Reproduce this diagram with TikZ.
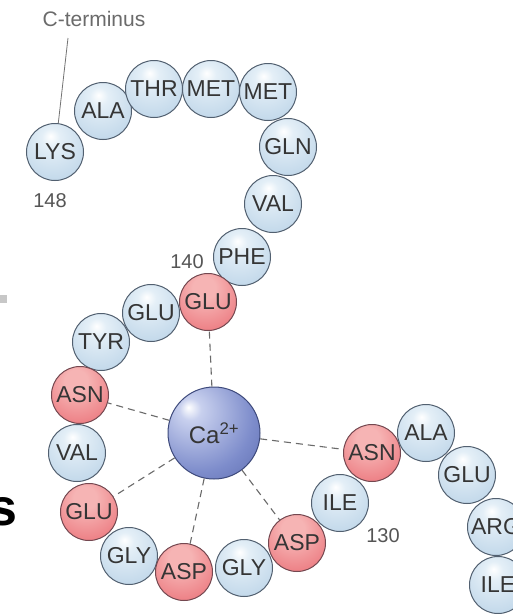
\documentclass[tikz,border=0pt]{standalone}
\usepackage{fontspec}
\setmainfont{Liberation Sans}
\definecolor{blueA}{HTML}{E4EFF7}
\definecolor{blueB}{HTML}{C2D8EA}
\definecolor{blueC}{HTML}{98B8D4}
\definecolor{redA}{HTML}{F6B4B4}
\definecolor{redB}{HTML}{EC7A80}
\definecolor{redC}{HTML}{D04E58}
\definecolor{caA}{HTML}{C8D0EE}
\definecolor{caB}{HTML}{7D8CCB}
\definecolor{caC}{HTML}{5564A8}
\definecolor{beadedge}{HTML}{526070}
\definecolor{redge}{HTML}{744850}
\definecolor{caedge}{HTML}{3E4A7C}
\definecolor{labgrey}{HTML}{353535}
\definecolor{numgrey}{HTML}{555555}
\definecolor{bondgrey}{HTML}{6A6A6A}
\pgfdeclareradialshading{blueball}{\pgfpoint{-4bp}{14bp}}{color(0bp)=(white); color(8bp)=(blueA); color(34bp)=(blueB); color(50bp)=(blueC); color(80bp)=(blueC)}
\pgfdeclareradialshading{redball}{\pgfpoint{-4bp}{14bp}}{color(0bp)=(redA); color(10bp)=(redA); color(36bp)=(redB); color(50bp)=(redC); color(80bp)=(redC)}
\pgfdeclareradialshading{caball}{\pgfpoint{-14bp}{14bp}}{color(0bp)=(white); color(6bp)=(caA); color(30bp)=(caB); color(50bp)=(caC); color(80bp)=(caC)}

\begin{document}
\begin{tikzpicture}[x=1pt,y=-1pt,
  bead/.style={circle,minimum size=57pt,draw=beadedge,line width=1pt,text=labgrey,font=\fontsize{23}{24}\selectfont},
  plainbead/.style={bead,shade,shading=blueball},
  bindbead/.style={bead,shade,shading=redball,draw=redge},
  ionball/.style={circle,minimum size=92pt,draw=caedge,line width=1pt,shade,shading=caball,text=labgrey,font=\fontsize{24}{24}\selectfont},
  resnum/.style={text=numgrey,font=\fontsize{20}{22}\selectfont},
  bond/.style={draw=bondgrey,line width=1.1pt,dash pattern=on 7pt off 5pt}]
\tikzstyle{every node}+=[inner sep=0pt]
\clip (0,0) rectangle (513,614);
\fill [white] (0,0) rectangle (513,614);
% cut-off bits at the left edge
\fill [black!22] (0,295) rectangle (7,303);
\node [anchor=east,font=\fontsize{52}{52}\bfseries] (word) at (18,512) {s};
% C-terminus
\node [resnum,text=black!58,font=\fontsize{21}{22}\selectfont] (cterm) at (94,19) {C-terminus};
\coordinate (ctip) at (68,38);
% chain, from lys 148 down
\node [plainbead] (lys) at (55,152) {LYS};
\node [plainbead] (ala1) at (103,111) {ALA};
\node [plainbead] (thr) at (154,89) {THR};
\node [plainbead] (met1) at (211,89) {MET};
\node [plainbead] (met2) at (268,92) {MET};
\node [plainbead] (gln) at (288,147) {GLN};
\node [plainbead] (val1) at (273,204) {VAL};
\node [plainbead] (phe) at (242,257) {PHE};
\node [bindbead] (glu1) at (208,302) {GLU};
\node [plainbead] (glu2) at (151,313) {GLU};
\node [plainbead] (tyr) at (101,342) {TYR};
\node [bindbead] (asn1) at (80,395) {ASN};
\node [plainbead] (val2) at (77,453) {VAL};
\node [bindbead] (glu3) at (89,512) {GLU};
\node [plainbead] (gly1) at (129,556) {GLY};
\node [bindbead] (asp1) at (184,572) {ASP};
\node [plainbead] (gly2) at (244,568) {GLY};
\node [bindbead] (asp2) at (297,543) {ASP};
\node [plainbead] (ile1) at (340,503) {ILE};
\node [bindbead] (asn2) at (372,453) {ASN};
\node [plainbead] (ala2) at (426,433) {ALA};
\node [plainbead] (glu4) at (467,475) {GLU};
\node [plainbead] (arg) at (496,527) {ARG};
\node [plainbead] (ile2) at (498,585) {ILE};
% calcium
\node [ionball] (ca) at (214,433) {Ca\textsuperscript{2+}};
\draw [bond] (ca) -- (glu1);
\draw [bond] (ca) -- (asn1);
\draw [bond] (ca) -- (glu3);
\draw [bond] (ca) -- (asp1);
\draw [bond] (ca) -- (asp2);
\draw [bond] (ca) -- (asn2);
\draw [black!55,line width=0.8pt] (ctip) -- (lys);
% residue numbers
\node [resnum] (n148) at (50,201) {148};
\node [resnum] (n140) at (187,262) {140};
\node [resnum] (n130) at (383,536) {130};
\end{tikzpicture}
\end{document}
